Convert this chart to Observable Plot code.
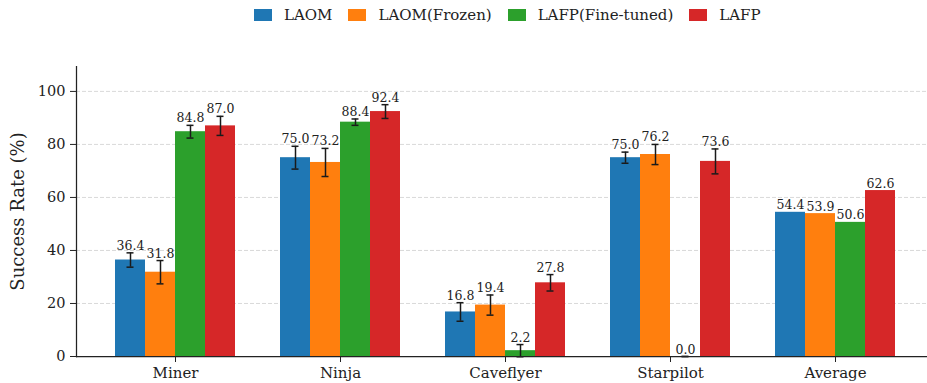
<!DOCTYPE html>
<html>
<head>
<meta charset="utf-8">
<script src="https://cdn.jsdelivr.net/npm/d3@7"></script>
<script src="https://cdn.jsdelivr.net/npm/@observablehq/plot@0.6"></script>
<style>
  body { margin: 0; background: #fff; font-family: "DejaVu Serif", serif; }
  #wrap { width: 927px; height: 383px; overflow: hidden; position: relative; }
  #legend { height: 30px; display: flex; align-items: center; padding-left: 254px; box-sizing: border-box; font-size: 15px; color: #222; }
  .item { display: flex; align-items: center; margin-right: 16px; }
  .sw { width: 18px; height: 12px; margin-right: 12px; }
</style>
</head>
<body>
<div id="wrap">
  <div id="legend"></div>
  <div id="chart"></div>
</div>
<script>
const categories = ["Miner", "Ninja", "Caveflyer", "Starpilot", "Average"];
const series = ["LAOM", "LAOM(Frozen)", "LAFP(Fine-tuned)", "LAFP"];
const colors = ["#1f77b4", "#ff7f0e", "#2ca02c", "#d62728"];

const laom       = [36.4, 75.0, 16.8, 75.0, 54.4];
const laomFrozen = [31.8, 73.2, 19.4, 76.2, 53.9];
const lafpFt     = [84.8, 88.4, 2.2, 0.0, 50.6];
const lafp       = [87.0, 92.4, 27.8, 73.6, 62.6];

const laomErr       = [2.7, 4.3, 3.5, 2.1, null];
const laomFrozenErr = [4.4, 5.3, 3.8, 3.8, null];
const lafpFtErr     = [2.4, 1.2, 2.3, 0.0, null];
const lafpErr       = [3.6, 2.6, 3.1, 4.7, null];

const yTicks = [0, 20, 40, 60, 80, 100];

const values = [laom, laomFrozen, lafpFt, lafp];
const errors = [laomErr, laomFrozenErr, lafpFtErr, lafpErr];

const rows = [];
series.forEach((s, i) => {
  categories.forEach((c, j) => {
    rows.push({category: c, series: s, si: i, value: values[i][j], err: errors[i][j]});
  });
});

// legend
const legend = document.getElementById("legend");
series.forEach((s, i) => {
  const it = document.createElement("div");
  it.className = "item";
  const sw = document.createElement("span");
  sw.className = "sw";
  sw.style.background = colors[i];
  const tx = document.createElement("span");
  tx.textContent = s;
  it.appendChild(sw); it.appendChild(tx);
  legend.appendChild(it);
});

const barW = 30;
const marks = [
  Plot.gridY(yTicks.filter(d => d > 0), {stroke: "#cfcfcf", strokeOpacity: 1, strokeDasharray: "4,2", strokeWidth: 0.8}),
];
series.forEach((s, i) => {
  const data = rows.filter(d => d.si === i);
  const errData = data.filter(d => d.err != null);
  const off = (i - 1.5) * barW;
  marks.push(
    Plot.barY(data, {x: "category", y: "value", fill: colors[i], insetLeft: i * barW, insetRight: (3 - i) * barW})
  );
  marks.push(
    Plot.ruleX(errData, {x: "category", y1: d => d.value - d.err, y2: d => d.value + d.err, dx: off, stroke: "#1a1a1a", strokeWidth: 1.5})
  );
  marks.push(
    Plot.tickY(errData, {x: "category", y: d => d.value - d.err, stroke: "#1a1a1a", strokeWidth: 1.5, insetLeft: i * barW + 11.5, insetRight: (3 - i) * barW + 11.5})
  );
  marks.push(
    Plot.tickY(errData, {x: "category", y: d => d.value + d.err, stroke: "#1a1a1a", strokeWidth: 1.5, insetLeft: i * barW + 11.5, insetRight: (3 - i) * barW + 11.5})
  );
  marks.push(
    Plot.text(data, {x: "category", y: d => d.value + (d.err || 0), text: d => d.value.toFixed(1), dx: off, dy: -3, lineAnchor: "bottom", fontSize: 12.5, fill: "#222"})
  );
});
marks.push(Plot.ruleY([0], {stroke: "#222", strokeWidth: 1.25}));
marks.push(Plot.frame({anchor: "left", stroke: "#222", strokeWidth: 1.25}));
marks.push(Plot.axisY({ticks: yTicks, tickSize: 6, tickPadding: 5, fontSize: 14.5, label: null, stroke: "#222"}));
marks.push(Plot.axisX({tickSize: 6, tickPadding: 5, fontSize: 15, label: null, stroke: "#222"}));
marks.push(Plot.text(["Success Rate (%)"], {frameAnchor: "left", textAnchor: "middle", rotate: -90, dx: -58, fontSize: 18, fill: "#222"}));

const chart = Plot.plot({
  width: 927,
  height: 353,
  marginLeft: 76,
  marginRight: 0,
  marginTop: 36,
  marginBottom: 27,
  style: {fontFamily: "DejaVu Serif", color: "#222", background: "#fff", overflow: "visible"},
  x: {type: "band", domain: categories, paddingInner: 45 / 165, paddingOuter: 0.215, align: 0.55},
  y: {domain: [0, 109.4]},
  marks
});
document.getElementById("chart").appendChild(chart);
</script>
</body>
</html>
